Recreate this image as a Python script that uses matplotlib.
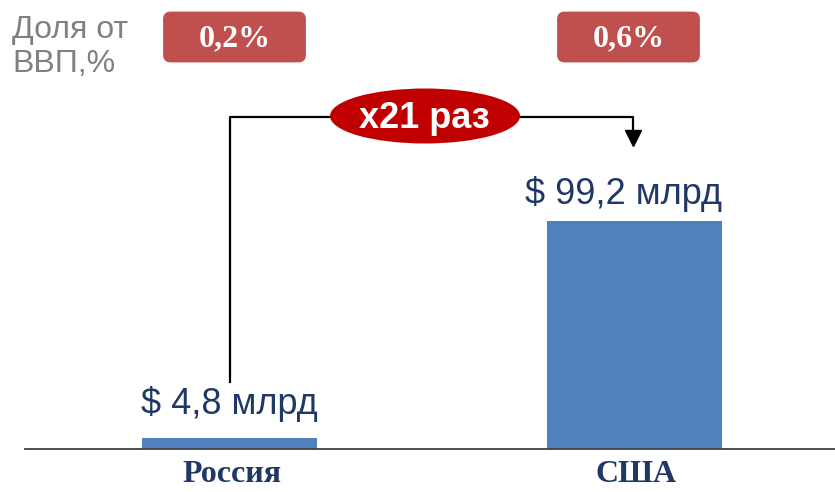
import matplotlib.pyplot as plt
from matplotlib.patches import Ellipse, FancyBboxPatch

countries = ['Россия', 'США']
spend = [4.8, 99.2]          # млрд $
gdp_share = [0.2, 0.6]       # % ВВП

bar_color = '#4F81BD'
navy = '#1F3864'

fig = plt.figure(figsize=(8.35, 4.92), dpi=100)
ax = fig.add_axes([25 / 835, 43 / 492, 810 / 835, 449 / 492])
pos = [0, 1]
ax.bar(pos, spend, width=0.432, color=bar_color, zorder=2)
ax.set_xlim(-0.504, 1.496)
ax.set_ylim(0, 195.4)
for s in ['top', 'right', 'left']:
    ax.spines[s].set_visible(False)
ax.spines['bottom'].set_color('#404040')
ax.spines['bottom'].set_linewidth(1.3)
ax.set_yticks([])
ax.set_xticks([p + 0.006 for p in pos])
ax.set_xticklabels(countries, fontfamily='Liberation Serif', fontweight='bold',
                   fontsize=23, color=navy)
ax.tick_params(axis='x', length=0, pad=8)

# value labels (baseline offsets in points above the bar top)
lab_dx = [0, -0.027]
lab_dy = [17.5, 12.5]
for x, v, dx, dy in zip(pos, spend, lab_dx, lab_dy):
    lab = '$ ' + f'{v:.1f}'.replace('.', ',') + ' млрд'
    ax.annotate(lab, (x + dx, v), xytext=(0, dy), textcoords='offset points',
                ha='center', va='baseline', fontsize=26,
                fontfamily='Liberation Sans', color=navy)

# connector from Russia label to USA label
y_top = 144.5
ax.plot([pos[0] + 0.002, pos[0] + 0.002, pos[1] - 0.002, pos[1] - 0.002],
        [29, y_top, y_top, 139], color='black', lw=1.6, zorder=3)
ax.plot([pos[1] - 0.002], [135.5], marker='v', color='black', markersize=11, zorder=3)

# overlay in pixel coordinates for decorations
ov = fig.add_axes([0, 0, 1, 1])
ov.set_xlim(0, 835)
ov.set_ylim(492, 0)
ov.axis('off')

ov.text(12, 38, 'Доля от', fontsize=23, color='#808080', ha='left', va='baseline',
        fontfamily='Liberation Sans')
ov.text(12, 72, 'ВВП,%', fontsize=23, color='#808080', ha='left', va='baseline',
        fontfamily='Liberation Sans')

for cx, sh in zip([234.5, 628.5], gdp_share):
    ov.add_patch(FancyBboxPatch((cx - 70, 13), 140, 48,
                                boxstyle='round,pad=0,rounding_size=6',
                                facecolor='#C0504D', edgecolor='#C0504D', lw=2))
    ov.text(cx, 39, f'{sh:.1f}'.replace('.', ',') + '%', ha='center', va='center',
            fontsize=23, fontweight='bold', color='white', fontfamily='Liberation Serif')

ov.add_patch(Ellipse((425, 116), 190, 55, facecolor='#C00000', edgecolor='none'))
ov.text(424, 119, f'x{round(spend[1] / spend[0])} раз', ha='center', va='center',
        fontsize=26, fontweight='bold', color='white', fontfamily='Liberation Sans')

fig.savefig('out.png', dpi=100)
